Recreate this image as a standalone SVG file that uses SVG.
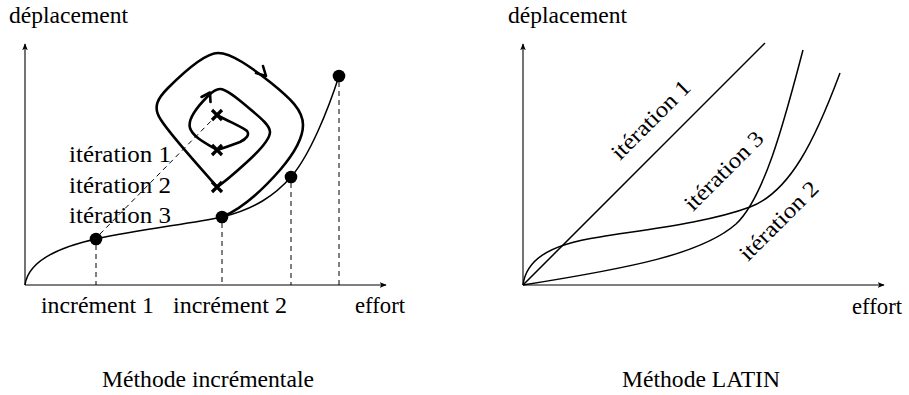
<svg xmlns="http://www.w3.org/2000/svg" width="909" height="395" viewBox="0 0 909 395">
<defs>
<style>
text{font-family:"Liberation Serif","DejaVu Serif","Times New Roman",serif;font-size:22.5px;fill:#000}
.ax{stroke:#000;stroke-width:1.1;fill:none}
.curve{stroke:#000;stroke-width:1.5;fill:none}
.thick{stroke:#000;stroke-width:2.6;fill:none;stroke-linejoin:round;stroke-linecap:round}
.cross{stroke:#000;stroke-width:3.2;fill:none;stroke-linecap:butt}
.dash{stroke:#000;stroke-width:1;fill:none;stroke-dasharray:5 4}
.dot{fill:#000}
</style>
<marker id="ah" viewBox="0 0 10 10" refX="9" refY="5" markerWidth="7" markerHeight="7" markerUnits="userSpaceOnUse" orient="auto">
<path d="M0,1 L10,5 L0,9 L2.5,5 Z" fill="#000"/>
</marker>
</defs>
<rect width="909" height="395" fill="#fff"/>

<!-- Left: incremental method -->
<g id="left-axes">
<line class="ax" x1="25" y1="285" x2="25" y2="44" marker-end="url(#ah)"/>
<line class="ax" x1="25" y1="285" x2="386" y2="285" marker-end="url(#ah)"/>
<text x="9" y="23" textLength="119" lengthAdjust="spacingAndGlyphs">déplacement</text>
<text x="355" y="313" textLength="50" lengthAdjust="spacingAndGlyphs">effort</text>
</g>

<g id="connectors">
<path class="curve" d="M25,285 C28,262 55,248 96,239 C140,229 190,224 222,217 C255,209 275,195 291,177 C310,155 328,110 339,76"/>
<line class="dash" x1="96" y1="245" x2="96" y2="285"/>
<line class="dash" x1="222" y1="223" x2="222" y2="285"/>
<line class="dash" x1="291" y1="183" x2="291" y2="285"/>
<line class="dash" x1="339" y1="82" x2="339" y2="285"/>
<line class="dash" x1="217" y1="115" x2="99" y2="235"/>
<path class="thick" d="M217,115 C230,122 244,128 247,131 C250,135 246,139 240,142 C232,145 224,148 217,150 C205,143 193,137 190,128 C187,118 200,104 208,96 C213,91 216,89 220,89 C226,89 236,97 250,109 C262,119 270,126 270,132 C270,140 258,152 247,162 C236,172 226,181 217,187 C200,167 172,137 161,120 C152,107 158,98 168,88 C182,74 204,53 218,53 C232,53 252,68 270,82 C290,98 303,110 303,125 C303,140 292,156 280,170 C266,186 246,207 222,217"/>
<path class="thick" d="M256,73 L266,76 L263,66"/>
<path class="thick" d="M201.5,97 L210,92.5 L210.5,102"/>
</g>

<g id="marks">
<circle class="dot" cx="96" cy="239" r="6.3"/>
<circle class="dot" cx="222" cy="217" r="6.3"/>
<circle class="dot" cx="291" cy="177" r="6.3"/>
<circle class="dot" cx="339" cy="76" r="6.3"/>
<path class="cross" d="M212,110 L222,120 M222,110 L212,120"/>
<path class="cross" d="M212,145 L222,155 M222,145 L212,155"/>
<path class="cross" d="M212,182 L222,192 M222,182 L212,192"/>
</g>

<g id="left-labels">
<text x="69" y="162" textLength="102" lengthAdjust="spacingAndGlyphs">itération 1</text>
<text x="69" y="193" textLength="102" lengthAdjust="spacingAndGlyphs">itération 2</text>
<text x="69" y="223" textLength="102" lengthAdjust="spacingAndGlyphs">itération 3</text>
<text x="41" y="313" textLength="113" lengthAdjust="spacingAndGlyphs">incrément 1</text>
<text x="173" y="313" textLength="114" lengthAdjust="spacingAndGlyphs">incrément 2</text>
<text x="208" y="387" text-anchor="middle" textLength="212" lengthAdjust="spacingAndGlyphs">Méthode incrémentale</text>
</g>

<!-- Right: LATIN method -->
<g id="right-axes">
<line class="ax" x1="523" y1="285" x2="523" y2="44" marker-end="url(#ah)"/>
<line class="ax" x1="523" y1="285" x2="884" y2="285" marker-end="url(#ah)"/>
<text x="508" y="23" textLength="119" lengthAdjust="spacingAndGlyphs">déplacement</text>
<text x="852" y="314" textLength="50" lengthAdjust="spacingAndGlyphs">effort</text>
</g>

<g id="right-curves">
<path class="curve" d="M523,285 L765,43"/>
<path class="curve" d="M523,285 C630,268 702,254 736,224 C766,196 787,110 803,50"/>
<path class="curve" d="M523,285 C526,262 545,245 600,237 C650,229 710,222 750,207 C790,192 815,140 840,73"/>
</g>

<g id="right-labels">
<text transform="translate(656,125) rotate(-45)" text-anchor="middle" textLength="102" lengthAdjust="spacingAndGlyphs">itération 1</text>
<text transform="translate(729,176) rotate(-45)" text-anchor="middle" textLength="102" lengthAdjust="spacingAndGlyphs">itération 3</text>
<text transform="translate(784,226) rotate(-45)" text-anchor="middle" textLength="102" lengthAdjust="spacingAndGlyphs">itération 2</text>
<text x="701" y="387" text-anchor="middle" textLength="158" lengthAdjust="spacingAndGlyphs">Méthode LATIN</text>
</g>
</svg>
